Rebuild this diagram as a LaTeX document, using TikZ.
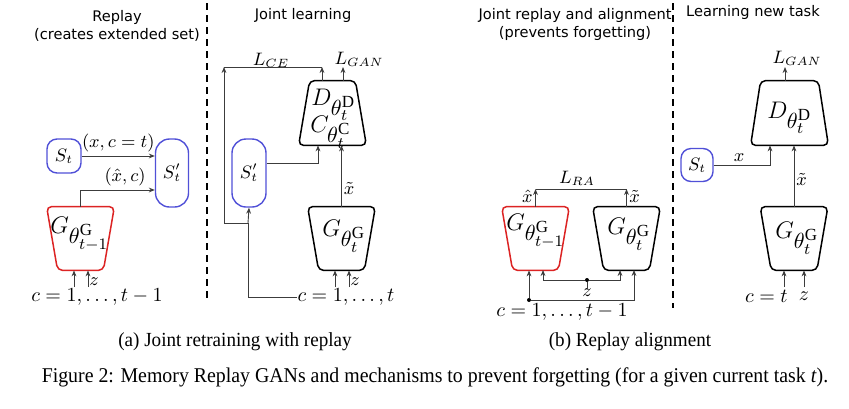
\documentclass[tikz,border=0pt]{standalone}
\usepackage{fontspec}
\usepackage{graphicx}
\setmainfont{Liberation Serif}
\newfontfamily\headfont{DejaVu Sans}
\DeclareMathSizes{12}{12}{10.5}{8.5}
\usetikzlibrary{arrows.meta,calc}
\definecolor{setblue}{RGB}{80,80,215}
\definecolor{oldred}{RGB}{220,35,35}
\definecolor{wirec}{RGB}{60,60,60}
\begin{document}
\begin{tikzpicture}[x=0.5pt,y=-0.5pt,
  headtxt/.style={font=\headfont\fontsize{7.3}{9}\selectfont, align=center, inner sep=0pt},
  setbox/.style={draw=setblue, line width=0.7pt, rounded corners=5pt, inner sep=0pt, font=\fontsize{9}{10}\selectfont},
  gbox/.style={inner sep=0pt, minimum width=33.5pt, minimum height=31.5pt},
  trapline/.style={draw, line width=0.75pt, rounded corners=2.5pt},
  wire/.style={draw=wirec, line width=0.45pt},
  arr/.style={wire, -{Stealth[length=3pt,width=2.4pt]}},
  lab/.style={inner sep=0pt, font=\fontsize{9}{10}\selectfont},
  bigtxt/.style={inner sep=0pt, font=\fontsize{12}{12}\selectfont, anchor=base west},
  captxt/.style={inner sep=0pt, font=\fontsize{10}{12}\selectfont},
  dotnode/.style={circle, fill=black, inner sep=0pt, minimum size=2pt},
  divider/.style={draw=black, line width=0.8pt, dash pattern=on 3.5pt off 2.5pt}
]
\useasboundingbox (0,0) rectangle (849,408);

% dividers
\coordinate (d1t) at (207,3); \coordinate (d1b) at (207,300);
\coordinate (d2t) at (673,3); \coordinate (d2b) at (673,308);
\draw[divider] (d1t) -- (d1b);
\draw[divider] (d2t) -- (d2b);

% headings
\node[headtxt] (h1) at (117,26) {Replay\\(creates extended set)};
\node[headtxt] (h2) at (303,15) {Joint learning};
\node[headtxt] (h3) at (575,24) {Joint replay and alignment\\(prevents forgetting)};
\node[headtxt] (h4) at (753,12) {Learning new task};

% ---------------- panel 1
\node[setbox, minimum width=17pt, minimum height=17pt] (St1) at (64,156) {$S_t$};
\node[setbox, rounded corners=7pt, minimum width=16.5pt, minimum height=34pt] (Sp1) at (172,173) {$S'_t$};
\node[gbox] (G1) at (80.5,238.5) {};
\draw[trapline, draw=oldred] (G1.north) -- (G1.north east) -- ($(G1.south east)+(-11,0)$) -- ($(G1.south west)+(11,0)$) -- (G1.north west) -- cycle;
\node[bigtxt] (G1l) at (50,233) {$G_{\theta^{\mathrm{G}}_{t-1}}$};
\draw[arr] (St1.east) -- (St1.east -| Sp1.west) node[lab, midway, above=2pt] {$(x,c=t)$};
\coordinate (k1) at (80.5,190);
\draw[arr] (G1.north) -- (k1) -- (k1 -| Sp1.west) node[lab, pos=0.6, above=2pt] {$(\hat{x},c)$};
\coordinate (i1a) at (74,287); \coordinate (i1b) at (88,287);
\draw[arr] (i1a) -- (i1a |- G1.south);
\draw[arr] (i1b) -- (i1b |- G1.south);
\node[lab, anchor=west] (z1) at (89,282) {$z$};
\node[lab, font=\fontsize{10}{12}\selectfont] (c1) at (97,297) {$c=1,\ldots,t-1$};

% ---------------- panel 2
\node[gbox, minimum height=32pt] (D2) at (332.5,113) {};
\draw[trapline] (D2.south) -- (D2.south east) -- ($(D2.north east)+(-11,0)$) -- ($(D2.north west)+(11,0)$) -- (D2.south west) -- cycle;
\node[bigtxt] (D2l) at (311,105) {$D_{\theta^{\mathrm{D}}_t}$};
\node[bigtxt] (C2l) at (310,132) {$C_{\theta^{\mathrm{C}}_t}$};
\node[setbox, rounded corners=7pt, minimum width=17pt, minimum height=34pt] (Sp2) at (249,173) {$S'_t$};
\node[gbox] (G2) at (341.5,238.5) {};
\draw[trapline] (G2.north) -- (G2.north east) -- ($(G2.south east)+(-11,0)$) -- ($(G2.south west)+(11,0)$) -- (G2.north west) -- cycle;
\node[bigtxt] (G2l) at (322,236) {$G_{\theta^{\mathrm{G}}_t}$};
% L_CE
\coordinate (ceR) at (322,67); \coordinate (ceL) at (224,67);
\coordinate (br) at (248,223); \coordinate (brL) at (224,223);
\draw[arr] (ceR |- D2.north) -- (ceR);
\draw[arr] (br) -- (brL) -- (ceL);
\draw[wire] (ceL) -- (ceR);
\node[lab] (Lce) at (271,60) {$L_{CE}$};
% L_GAN
\coordinate (gan2) at (343,67);
\draw[arr] (gan2 |- D2.north) -- (gan2);
\node[lab] (Lgan2) at (359,59) {$L_{GAN}$};
% S'_t -> D
\coordinate (k2) at (318,163);
\draw[arr] (Sp2.east |- k2) -- (k2) -- (k2 |- D2.south);
% G -> D
\draw[arr] (G2.north) -- (G2.north |- D2.south) node[lab, pos=0.3, right=1pt] {$\tilde{x}$};
% inputs
\node[lab, font=\fontsize{10}{12}\selectfont] (c2) at (346,297) {$c=1,\ldots,t$};
\draw[wire] (c2.west) -- (c2.west -| br) -- (br);
\draw[arr] (br) -- (Sp2.south);
\coordinate (i2a) at (335,287); \coordinate (i2b) at (349,287);
\draw[arr] (i2a) -- (i2a |- G2.south);
\draw[arr] (i2b) -- (i2b |- G2.south);
\node[lab, anchor=west] (z2) at (350,282) {$z$};

% ---------------- panel 3
\node[gbox] (G3a) at (535.5,238.5) {};
\draw[trapline, draw=oldred] (G3a.north) -- (G3a.north east) -- ($(G3a.south east)+(-11,0)$) -- ($(G3a.south west)+(11,0)$) -- (G3a.north west) -- cycle;
\node[bigtxt] (G3al) at (506,230) {$G_{\theta^{\mathrm{G}}_{t-1}}$};
\node[gbox] (G3b) at (626.5,238.5) {};
\draw[trapline] (G3b.north) -- (G3b.north east) -- ($(G3b.south east)+(-11,0)$) -- ($(G3b.south west)+(11,0)$) -- (G3b.north west) -- cycle;
\node[bigtxt] (G3bl) at (607,234) {$G_{\theta^{\mathrm{G}}_t}$};
\coordinate (ra1) at (535.5,189); \coordinate (ra2) at (626.5,189);
\draw[arr] (G3a.north) -- (ra1);
\draw[arr] (G3b.north) -- (ra2);
\draw[wire] (ra1) -- (ra2);
\node[lab] (Lra) at (577,178) {$L_{RA}$};
\node[lab, anchor=east] (xh3) at (533,196) {$\hat{x}$};
\node[lab, anchor=west] (xt3) at (629,196) {$\tilde{x}$};
\node[dotnode] (zd3) at (587,280) {};
\node[dotnode] (cd3) at (529,300) {};
\node[lab] (z3) at (587,293) {$z$};
\draw[wire] (zd3) -- (z3.north);
\coordinate (z3a) at (543,270); \coordinate (z3b) at (620,270);
\coordinate (c3b) at (634,270);
\draw[arr] (zd3) -| (z3a);
\draw[arr] (zd3) -| (z3b);
\draw[arr] (cd3) -- (cd3 |- G3a.south);
\draw[arr] (cd3) -| (c3b);
\node[lab, font=\fontsize{10}{12}\selectfont] (c3) at (562,312) {$c=1,\ldots,t-1$};

% ---------------- panel 4
\node[gbox, minimum width=38.5pt, minimum height=32pt] (D4) at (789.5,113) {};
\draw[trapline] (D4.south) -- (D4.south east) -- ($(D4.north east)+(-10,0)$) -- ($(D4.north west)+(10,0)$) -- (D4.south west) -- cycle;
\node[bigtxt] (D4l) at (767,118) {$D_{\theta^{\mathrm{D}}_t}$};
\node[setbox, minimum width=16pt, minimum height=16.5pt] (St4) at (697,165) {$S_t$};
\node[gbox] (G4) at (794,238.5) {};
\draw[trapline] (G4.north) -- (G4.north east) -- ($(G4.south east)+(-11,0)$) -- ($(G4.south west)+(11,0)$) -- (G4.north west) -- cycle;
\node[bigtxt] (G4l) at (775,238) {$G_{\theta^{\mathrm{G}}_t}$};
\coordinate (gan4) at (785,67);
\draw[arr] (gan4 |- D4.north) -- (gan4);
\node[lab] (Lgan4) at (797,58) {$L_{GAN}$};
\coordinate (k4) at (770,165);
\draw[arr] (St4.east) -- (k4) -- (k4 |- D4.south) ;
\node[lab] (x4) at (739,158) {$x$};
\draw[arr] (G4.north) -- (G4.north |- D4.south) node[lab, pos=0.45, right=1pt] {$\tilde{x}$};
\coordinate (i4a) at (784,287); \coordinate (i4b) at (804,287);
\draw[arr] (i4a) -- (i4a |- G4.south);
\draw[arr] (i4b) -- (i4b |- G4.south);
\node[lab, font=\fontsize{10}{12}\selectfont, anchor=east] (c4) at (788,296) {$c=t$};
\node[lab, font=\fontsize{10}{12}\selectfont] (z4) at (804,296) {$z$};

% captions
\node[captxt] (capa) at (235,342) {\scalebox{0.955}[1]{(a) Joint retraining with replay}};
\node[captxt] (capb) at (630,342) {\scalebox{0.955}[1]{(b) Replay alignment}};
\node[captxt, font=\fontsize{10.5}{12}\selectfont] (capf) at (435,377) {\scalebox{0.945}[1]{Figure 2: Memory Replay GANs and mechanisms to prevent forgetting (for a given current task \textit{t}).}};
\end{tikzpicture}
\end{document}
